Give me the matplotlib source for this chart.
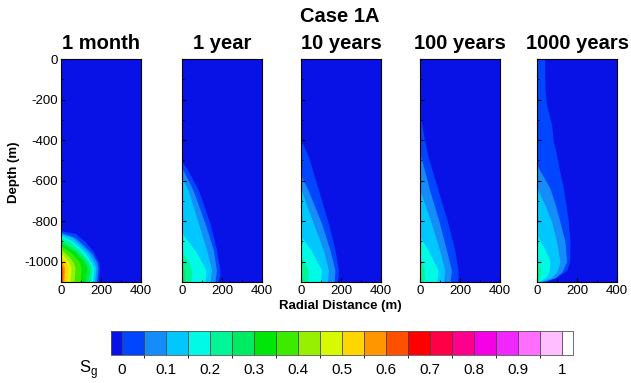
import matplotlib.pyplot as plt
from matplotlib.colors import ListedColormap, BoundaryNorm
from matplotlib.cm import ScalarMappable
from matplotlib.ticker import MultipleLocator

plt.rcParams["font.family"] = ["Liberation Sans", "DejaVu Sans"]
plt.rcParams["axes.unicode_minus"] = False

titles = ["1 month", "1 year", "10 years", "100 years", "1000 years"]

# Gas saturation fronts, one entry per contour level:
# (Sg level, depth (m), radial distance of the front (m))
month1_fronts = [
    (0.001, [-847, -860, -900, -950, -1000, -1030, -1060, -1100], [0, 70, 120, 162, 187, 192, 190, 185]),
    (0.05, [-855, -880, -920, -960, -1000, -1030, -1100], [0, 70, 115, 155, 178, 185, 178]),
    (0.10, [-863, -880, -920, -960, -1000, -1030, -1100], [0, 55, 100, 140, 165, 175, 168]),
    (0.15, [-870, -900, -950, -1000, -1030, -1100], [0, 60, 115, 150, 165, 158]),
    (0.20, [-879, -900, -950, -1000, -1030, -1100], [0, 45, 100, 140, 155, 148]),
    (0.25, [-893, -920, -960, -1000, -1030, -1100], [0, 40, 95, 130, 145, 138]),
    (0.30, [-908, -950, -1000, -1030, -1100], [0, 70, 115, 130, 122]),
    (0.35, [-922, -950, -1000, -1030, -1100], [0, 45, 90, 100, 95]),
    (0.40, [-937, -970, -1000, -1030, -1100], [0, 35, 60, 70, 65]),
    (0.45, [-955, -1000, -1030, -1100], [0, 40, 50, 45]),
    (0.50, [-970, -1000, -1030, -1100], [0, 25, 35, 30]),
    (0.55, [-990, -1030, -1100], [0, 18, 15]),
    (0.60, [-1000, -1040, -1100], [0, 10, 8]),
]

year1_fronts = [
    (0.001, [-506, -550, -646, -810, -942, -1041, -1075, -1100], [0, 30, 82, 140, 173, 190, 188, 178]),
    (0.05, [-538, -646, -810, -942, -1041, -1100], [0, 55, 115, 157, 172, 165]),
    (0.10, [-587, -646, -810, -942, -1041, -1100], [0, 30, 82, 123, 148, 140]),
    (0.15, [-860, -950, -1041, -1100], [0, 70, 120, 115]),
    (0.20, [-957, -1000, -1050, -1100], [0, 35, 50, 45]),
    (0.25, [-1010, -1050, -1100], [0, 15, 12]),
]

year10_fronts = [
    (0.001, [-400, -481, -646, -811, -942, -1041, -1080, -1100], [0, 37, 87, 137, 170, 187, 185, 178]),
    (0.05, [-575, -646, -811, -942, -1041, -1100], [0, 35, 103, 145, 170, 165]),
    (0.10, [-640, -700, -811, -942, -1041, -1100], [0, 20, 62, 112, 137, 132]),
    (0.15, [-876, -942, -1041, -1100], [0, 50, 103, 98]),
    (0.20, [-975, -1041, -1100], [0, 37, 33]),
]

year100_fronts = [
    (0.001, [-276, -400, -481, -646, -811, -942, -1041, -1080, -1100], [0, 23, 40, 90, 140, 173, 190, 190, 185]),
    (0.05, [-470, -560, -646, -811, -942, -1041, -1100], [0, 25, 48, 98, 132, 157, 150]),
    (0.10, [-646, -720, -811, -942, -1041, -1100], [0, 25, 57, 98, 123, 118]),
    (0.15, [-876, -942, -1041, -1100], [0, 40, 90, 85]),
    (0.20, [-990, -1041, -1100], [0, 23, 20]),
]

year1000_fronts = [
    (0.001, [0, -150, -227, -326, -408, -474, -560, -638, -720, -803, -901, -1000, -1040, -1070, -1100],
     [38, 40, 48, 73, 82, 98, 115, 132, 145, 157, 165, 163, 150, 110, 40]),
    (0.05, [-523, -638, -720, -803, -901, -1000, -1050, -1080, -1100], [0, 65, 92, 115, 140, 148, 125, 90, 20]),
    (0.10, [-638, -720, -803, -901, -1000, -1050, -1080, -1100], [0, 40, 73, 98, 115, 100, 70, 10]),
    (0.15, [-868, -950, -1000, -1050, -1080, -1100], [0, 45, 65, 60, 40, 5]),
    (0.20, [-1000, -1040, -1070, -1100], [0, 20, 15, 0]),
]

all_fronts = [month1_fronts, year1_fronts, year10_fronts, year100_fronts, year1000_fronts]

sg_levels = [round(0.05 * i, 2) for i in range(21)]
sg_ticks = [0, 0.1, 0.2, 0.3, 0.4, 0.5, 0.6, 0.7, 0.8, 0.9, 1]

# flood colours, one per 0.05 band, plus under/over
under_color = "#0812E6"
over_color = "#FFFFFF"
band_colors = [
    "#0046FF", "#148CFA", "#00C8FF", "#00FAE6", "#00F596",
    "#00EB64", "#00E60A", "#3CEB00", "#96F000", "#D7FA00",
    "#FFD700", "#FF9600", "#FF5000", "#FF0000", "#FF0046",
    "#FF008C", "#F500E6", "#F028FF", "#FF6EFF", "#FFBEFF",
]

cmap = ListedColormap(band_colors)
cmap.set_under(under_color)
cmap.set_over(over_color)
norm = BoundaryNorm(sg_levels, cmap.N)

W, H = 631, 383
fig = plt.figure(figsize=(W / 100, H / 100), dpi=100)

panel_left = [61, 182, 301, 420, 537]
panel_w, panel_top, panel_bot = 80, 59, 282

for i, (x0, fronts, title) in enumerate(zip(panel_left, all_fronts, titles)):
    ax = fig.add_axes([x0 / W, 1 - panel_bot / H, panel_w / W, (panel_bot - panel_top) / H])
    ax.set_facecolor(under_color)
    for level, depth, radius in fronts:
        ax.fill_betweenx(depth, 0, radius, color=band_colors[int(round(level / 0.05))], lw=0)
    ax.set_xlim(0, 400)
    ax.set_ylim(-1100, 0)
    ax.set_xticks([0, 200, 400])
    ax.set_yticks([0, -200, -400, -600, -800, -1000])
    ax.yaxis.set_minor_locator(MultipleLocator(100))
    ax.xaxis.set_minor_locator(MultipleLocator(100))
    ax.tick_params(which="major", direction="in", length=3, width=0.8, labelsize=9.5, pad=2)
    ax.tick_params(which="minor", direction="in", length=1.5, width=0.6)
    if i > 0:
        ax.tick_params(axis="y", labelleft=False)
    for s in ax.spines.values():
        s.set_linewidth(0.8)
    ax.set_title(title, fontsize=14.5, fontweight="bold", pad=7)

fig.text(340 / W, 1 - 16 / H, "Case 1A", ha="center", va="center", fontsize=14.5, fontweight="bold")
fig.text(340 / W, 1 - 306 / H, "Radial Distance (m)", ha="center", va="center", fontsize=9.5, fontweight="bold")
fig.text(14 / W, 1 - 172 / H, "Depth (m)", ha="center", va="center", rotation=90, fontsize=9.5, fontweight="bold")

# Sg legend bar
cax = fig.add_axes([110.7 / W, 1 - 354.5 / H, 462 / W, 23.5 / H])
cb = fig.colorbar(
    ScalarMappable(norm=norm, cmap=cmap), cax=cax, orientation="horizontal",
    extend="both", extendrect=True, extendfrac=0.025, drawedges=True, ticks=sg_ticks,
)
cb.outline.set_linewidth(0.6)
cb.outline.set_edgecolor("#555555")
cb.dividers.set_color("#444444")
cb.dividers.set_linewidth(0.6)
cb.ax.tick_params(length=0, labelsize=11, pad=6)
cb.ax.set_xticklabels(["0", "0.1", "0.2", "0.3", "0.4", "0.5", "0.6", "0.7", "0.8", "0.9", "1"])
fig.text(88 / W, 1 - 370 / H, r"S$_\mathregular{g}$", ha="center", va="center", fontsize=12)

plt.savefig("out.png", dpi=100)
